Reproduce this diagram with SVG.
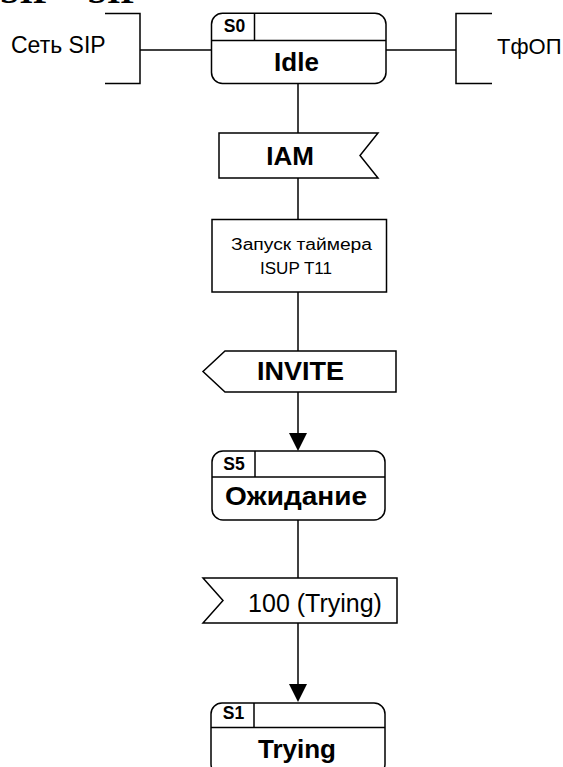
<svg xmlns="http://www.w3.org/2000/svg" width="563" height="767" viewBox="0 0 563 767">
<defs>
<style>
.ln{fill:none;stroke:#000;stroke-width:1.5}
.sh{fill:#fff;stroke:#000;stroke-width:1.5}
.t{font-family:"Liberation Sans",Arial,sans-serif;fill:#000}
.big{font-size:26px;font-weight:bold;text-anchor:middle}
.sid{font-size:17.5px;font-weight:bold;text-anchor:middle}
.env{font-size:23px}
</style>
</defs>
<rect width="563" height="767" fill="#fff"/>
<text x="0" y="2.5" style="font-family:'Liberation Serif','Times New Roman',serif;font-size:35px;font-weight:bold">SIP – SIP</text>

<g id="connectors">
<line class="ln" x1="140" y1="50" x2="211.5" y2="50"/>
<line class="ln" x1="386" y1="50" x2="456" y2="50"/>
<line class="ln" x1="298" y1="83.5" x2="298" y2="133"/>
<line class="ln" x1="298" y1="178" x2="298" y2="219.5"/>
<line class="ln" x1="298" y1="292" x2="298" y2="351"/>
<path class="ln" d="M298,392 V433"/>
<path d="M289,433 L307,433 L298,451 Z" fill="#000"/>
<line class="ln" x1="298" y1="520" x2="298" y2="578"/>
<path class="ln" d="M298,623 V684"/>
<path d="M289,684 L307,684 L298,702 Z" fill="#000"/>
</g>

<g id="env-sip">
<path class="ln" d="M105,13.5 H140 V83.5 H105"/>
<text class="t env" x="11" y="53">Сеть SIP</text>
</g>

<g id="env-pstn">
<path class="ln" d="M492,13.5 H456 V83.5 H492"/>
<text class="t" x="497" y="54" font-size="22">ТфОП</text>
</g>

<g id="state-s0">
<rect class="sh" x="211.5" y="13.3" width="174.5" height="70.2" rx="11" ry="11"/>
<line class="ln" x1="211.5" y1="40.5" x2="386" y2="40.5"/>
<line class="ln" x1="254.5" y1="13.3" x2="254.5" y2="40.5"/>
<text class="t sid" x="234.5" y="32.3">S0</text>
<text class="t big" x="296.5" y="70.5">Idle</text>
</g>

<g id="input-iam">
<polygon class="sh" points="219,133 378,133 360,155.5 378,178 219,178"/>
<text class="t big" x="290" y="165">IAM</text>
</g>

<g id="task-timer">
<rect class="sh" x="212" y="219.5" width="174.5" height="72.5"/>
<text class="t" x="231" y="249.5" font-size="16" textLength="141" lengthAdjust="spacingAndGlyphs">Запуск таймера</text>
<text class="t" x="260" y="273.5" font-size="16" textLength="72" lengthAdjust="spacingAndGlyphs">ISUP T11</text>
</g>

<g id="output-invite">
<polygon class="sh" points="225,351 396,351 396,392 225,392 203,371.5"/>
<text class="t big" x="300.5" y="380" textLength="87" lengthAdjust="spacingAndGlyphs">INVITE</text>
</g>

<g id="state-s5">
<rect class="sh" x="212" y="451" width="173" height="69" rx="11" ry="11"/>
<line class="ln" x1="212" y1="477" x2="385" y2="477"/>
<line class="ln" x1="255" y1="451" x2="255" y2="477"/>
<text class="t sid" x="234" y="470">S5</text>
<text class="t big" x="296" y="505" font-size="27" textLength="142" lengthAdjust="spacingAndGlyphs">Ожидание</text>
</g>

<g id="input-100">
<polygon class="sh" points="203,578 397,578 397,623 203,623 223,600.5"/>
<text class="t" x="315" y="612" font-size="25" text-anchor="middle">100 (Trying)</text>
</g>

<g id="state-s1">
<rect class="sh" x="211" y="703" width="174" height="72" rx="11" ry="11"/>
<line class="ln" x1="211" y1="727.5" x2="385" y2="727.5"/>
<line class="ln" x1="254" y1="703" x2="254" y2="727.5"/>
<text class="t sid" x="233.5" y="719">S1</text>
<text class="t big" x="297" y="758" font-size="26.5">Trying</text>
</g>
</svg>
